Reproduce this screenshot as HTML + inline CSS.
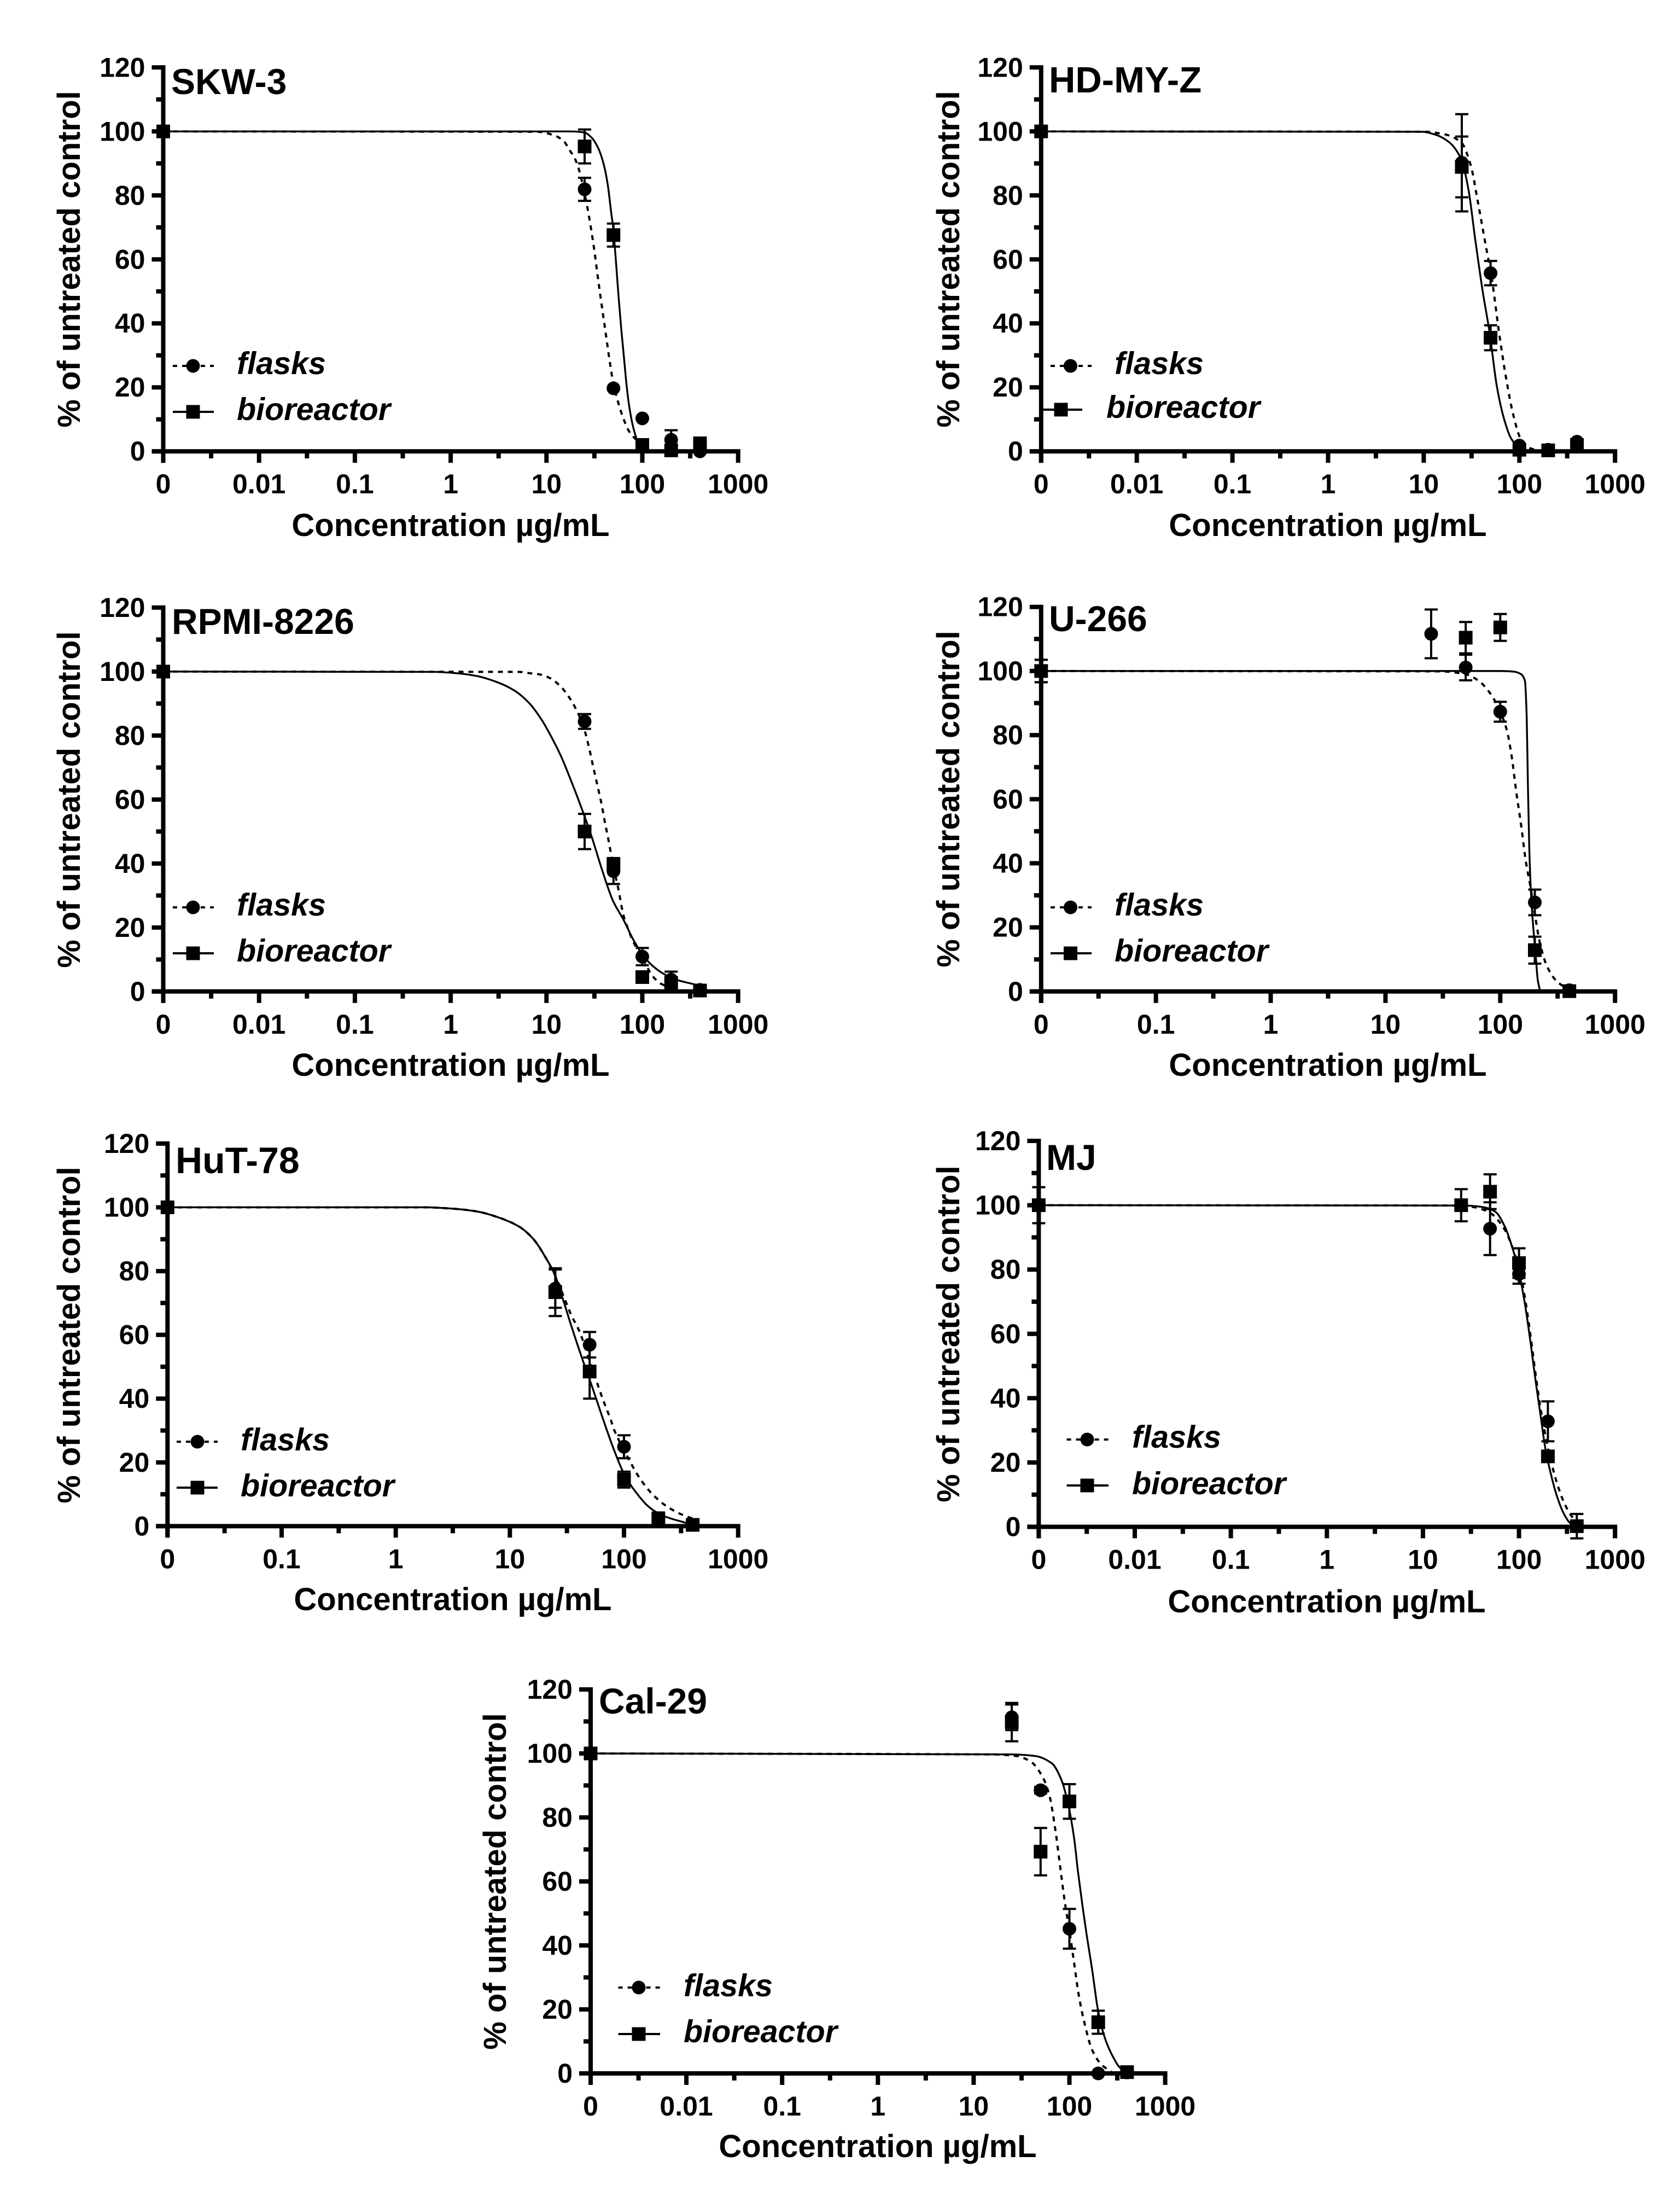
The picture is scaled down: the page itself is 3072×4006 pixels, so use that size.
<!DOCTYPE html>
<html lang="en">
<head>
<meta charset="utf-8">
<title>Dose-response curves for seven cell lines</title>
<style>
html,body{margin:0;padding:0;background:#fff;}
svg{display:block;}
text{font-family:"Liberation Sans",Arial,sans-serif;font-weight:bold;fill:#000;}
.tick{font-size:50px;}
.axt{font-size:58px;text-anchor:middle;}
.ttl{font-size:66px;}
.leg{font-size:57.5px;font-style:italic;}
</style>
</head>
<body>
<svg id="fig" xmlns="http://www.w3.org/2000/svg" width="3072" height="4006" viewBox="0 0 3072 4006">
<rect width="3072" height="4006" fill="#fff"/>

<g id="p1">
<text class="ttl" x="313" y="172">SKW-3</text>
<text class="axt" transform="translate(146 474) rotate(-90)">% of untreated control</text>
<text class="axt" x="824" y="980">Concentration µg/mL</text>
<text class="leg" x="433" y="684">flasks</text>
<text class="leg" x="433" y="768">bioreactor</text>
</g>

<g id="p2">
<text class="ttl" style="font-size:67px" x="1918" y="169">HD-MY-Z</text>
<text class="axt" transform="translate(1754 474) rotate(-90)">% of untreated control</text>
<text class="axt" x="2428" y="980">Concentration µg/mL</text>
<text class="leg" x="2038" y="684">flasks</text>
<text class="leg" x="2023" y="764">bioreactor</text>
</g>

<g id="p3">
<text class="ttl" x="314" y="1159">RPMI-8226</text>
<text class="axt" transform="translate(146 1462) rotate(-90)">% of untreated control</text>
<text class="axt" x="824" y="1967">Concentration µg/mL</text>
<text class="leg" x="433" y="1674">flasks</text>
<text class="leg" x="433" y="1758">bioreactor</text>
</g>

<g id="p4">
<text class="ttl" x="1918" y="1154">U-266</text>
<text class="axt" transform="translate(1754 1461) rotate(-90)">% of untreated control</text>
<text class="axt" x="2428" y="1967">Concentration µg/mL</text>
<text class="leg" x="2038" y="1674">flasks</text>
<text class="leg" x="2038" y="1758">bioreactor</text>
</g>

<g id="p5">
<text class="ttl" style="font-size:68px" x="321" y="2145">HuT-78</text>
<text class="axt" transform="translate(146 2441) rotate(-90)">% of untreated control</text>
<text class="axt" x="828" y="2944">Concentration µg/mL</text>
<text class="leg" x="440" y="2652">flasks</text>
<text class="leg" x="440" y="2736">bioreactor</text>
</g>

<g id="p6">
<text class="ttl" x="1913" y="2139">MJ</text>
<text class="axt" transform="translate(1754 2439) rotate(-90)">% of untreated control</text>
<text class="axt" x="2426" y="2948">Concentration µg/mL</text>
<text class="leg" x="2070" y="2647">flasks</text>
<text class="leg" x="2070" y="2732">bioreactor</text>
</g>

<g id="p7">
<text class="ttl" x="1095" y="3133">Cal-29</text>
<text class="axt" transform="translate(925 3440) rotate(-90)">% of untreated control</text>
<text class="axt" x="1605" y="3944">Concentration µg/mL</text>
<text class="leg" x="1250" y="3650">flasks</text>
<text class="leg" x="1250" y="3734">bioreactor</text>
</g>
</svg>

<script>
// ---------- shared axis data ----------
const doses = [0, 25, 50, 100, 200, 400];
const yTickValues = [0, 20, 40, 60, 80, 100, 120];
const yMinorValues = [10, 30, 50, 70, 90, 110];
const xTicksSixDecades = ['0', '0.01', '0.1', '1', '10', '100', '1000'];
const xTicksFiveDecades = ['0', '0.1', '1', '10', '100', '1000'];

// ---------- SKW-3 ----------
const skwFlasksVals = [100, 81.9, 19.7, 10.3, 3.6, 0];
const skwFlasksErr = [0, 3.6, 0, 0, 3, 0];
const skwBioVals = [100, 95.3, 67.6, 2, 0.3, 2.5];
const skwBioErr = [0, 5.3, 3.6, 0, 0, 0];
const skwFlasksCurveX = [0, 8, 12.2, 15.2, 17.3, 19.7, 21.5, 26.2, 30.6, 35.7, 40.7, 46.4, 49.6, 56.5, 64.5, 73.6, 87.7, 100, 115];
const skwFlasksCurveY = [100, 99.9, 98.7, 96.9, 94.3, 91.6, 88.7, 77.5, 65.6, 50.7, 38.7, 26.8, 21.6, 14.9, 9.7, 6, 3.4, 1.5, 0.3];
const skwBioCurveX = [0, 18, 24.6, 29.3, 34.9, 39.8, 43.5, 47.4, 49.6, 53, 56.5, 60.4, 64.5, 68.9, 73.6, 80.4, 89.6, 100, 110];
const skwBioCurveY = [100, 100, 99.7, 98.2, 94.6, 89.4, 83.5, 74.5, 70, 59.6, 48.4, 38, 29, 20, 13.4, 7.5, 3, 0.7, 0.1];

// ---------- HD-MY-Z ----------
const hdFlasksVals = [100, 90.2, 55.7, 1.8, 0.5, 3];
const hdFlasksErr = [0, 15.2, 3.8, 0, 0, 0];
const hdBioVals = [100, 88.9, 35.5, 0.5, 0.3, 2];
const hdBioErr = [0, 9.5, 3.9, 0, 0, 0];
const hdFlasksCurveX = [0, 10, 16.5, 24.6, 31, 36.8, 43.6, 51.8, 61.4, 72.9, 86.5, 102.6, 129, 162];
const hdFlasksCurveY = [100, 99.9, 99.1, 96.6, 89.4, 78, 65.8, 53.4, 37, 22.6, 11.3, 4.1, 1, 0.2];
const hdBioCurveX = [0, 9.5, 13.2, 18.5, 24.6, 29.2, 34.7, 41.2, 48.9, 58, 68.9, 81.7, 102.6, 129];
const hdBioCurveY = [100, 99.9, 99, 96.6, 91.4, 82.2, 65.8, 50.3, 37, 20.5, 10.3, 4.1, 0.8, 0.2];

// ---------- RPMI-8226 ----------
const rpmiFlasksVals = [100, 84.4, 37.6, 10.9, 3.7, 0.5];
const rpmiFlasksErr = [1.5, 2.3, 4, 2.7, 2.5, 0];
const rpmiBioVals = [100, 50, 39.7, 4.5, 2.7, 0.3];
const rpmiBioErr = [1.5, 5.5, 2, 0, 0, 0];
const rpmiFlasksCurveX = [0, 5.15, 6.62, 8.5, 10.96, 14.1, 17.2, 21, 24.5, 27.8, 30.7, 34, 37.6, 40.5, 44.8, 49.5, 56.1, 63.7, 70.5, 79.8, 100, 129, 157, 224];
const rpmiFlasksCurveY = [100, 99.9, 99.5, 99.1, 97.9, 95.3, 92, 87.4, 82.5, 76.2, 70.3, 64.4, 58.5, 53.2, 46.7, 39.5, 32.2, 23.7, 19.8, 15.8, 10.5, 4.7, 2.4, 0.7];
const rpmiBioCurveX = [0, 0.654, 1.14, 1.88, 3.11, 4.66, 6.62, 8.96, 10.96, 14.1, 18.1, 23.3, 29.9, 38.5, 49.5, 63.7, 81.9, 110.7, 157, 224, 370, 471];
const rpmiBioCurveY = [100, 99.9, 99.5, 98.6, 96.6, 94, 90.1, 84.8, 80.2, 73.7, 65.8, 57.2, 48, 37.5, 28.3, 22.4, 15.8, 9.9, 6, 3.7, 2, 0.8];

// ---------- U-266 ----------
const uFlasksVals = [100, 111.6, 101.1, 87.3, 27.8, 0.4];
const uFlasksErr = [3.5, 7.6, 4, 3.1, 4, 0];
const uBioVals = [100, null, 110.4, 113.6, 12.9, 0.1];
const uBioErr = [3.5, 0, 4.9, 4.2, 4.2, 0];
const uFlasksCurveX = [0, 30, 49.9, 64.5, 81.9, 100, 114, 125.7, 138, 152, 167, 184, 200, 222, 256, 310, 394];
const uFlasksCurveY = [100, 99.9, 99, 97, 93, 87.3, 81.6, 73.4, 62.2, 51.9, 40.6, 32.4, 24.2, 15, 7.8, 3.2, 0.6];
const uBioCurveX = [0, 100, 132, 152, 164, 170, 174, 179, 186, 196, 204, 212, 222];
const uBioCurveY = [100, 100, 99.8, 99, 97, 85.7, 65.2, 44.7, 29.3, 18, 10.9, 3.7, 0.2];

// ---------- HuT-78 ----------
const hutFlasksVals = [100, 74.5, 56.9, 24.9, 2.3, 0.4];
const hutFlasksErr = [0, 6, 4, 3.6, 0, 0];
const hutBioVals = [100, 73.4, 48.5, 14.6, 2.3, 0.4];
const hutBioErr = [0, 7.5, 8.5, 2.5, 2, 0];
const hutFlasksCurveX = [0, 1.79, 3.37, 5.15, 7.85, 12, 16.1, 20.7, 24.8, 29, 34.4, 40.8, 49.3, 58.3, 66.2, 76.7, 81.8, 114.8, 138.7, 178.7, 235, 323, 433];
const hutFlasksCurveY = [100, 100, 99.5, 98.7, 96.9, 94, 90, 84.1, 78.8, 72.9, 66.3, 61, 52.4, 44.8, 39.2, 33.3, 30.3, 19.8, 14.8, 9.9, 6.3, 3.6, 2];
const hutBioCurveX = [0, 1.79, 3.37, 5.15, 7.85, 12, 16.1, 20.7, 24.8, 29, 34.4, 42.6, 52.5, 64.9, 80.2, 98.9, 122, 171, 230, 352];
const hutBioCurveY = [100, 100, 99.5, 98.7, 96.9, 94, 90, 84.1, 78.8, 71.5, 63, 53, 43.8, 34, 24.7, 16.8, 11.5, 5.6, 3, 1];

// ---------- MJ ----------
const mjFlasksVals = [100, 100, 92.7, 78.6, 32.8, 0.2];
const mjFlasksErr = [5.6, 0, 8.2, 3, 6.2, 3.8];
const mjBioVals = [100, 100, 104.2, 82, 21.9, 0.2];
const mjBioErr = [0, 5, 5.4, 4.6, 0, 0];
const mjFlasksCurveX = [0, 21.5, 34, 50.6, 71.1, 89.3, 106, 118.6, 132.9, 148.9, 166.8, 186.9, 209.4, 248, 294, 349, 414];
const mjFlasksCurveY = [100, 99.9, 99.4, 97.5, 92.4, 85.2, 77.1, 68.9, 58.7, 47.4, 37.2, 29, 21.9, 13.7, 7.6, 3.5, 0.9];
const mjBioCurveX = [0, 27, 42.6, 56.6, 71.1, 84.3, 100, 115.9, 132.9, 148.9, 166.8, 186.9, 209.4, 248, 294, 349, 414];
const mjBioCurveY = [100, 99.9, 99.4, 98, 93.4, 87.3, 79.1, 68.9, 56.6, 45.4, 35.2, 24.9, 17.8, 9.6, 4, 0.9, 0.1];

// ---------- Cal-29 ----------
const calFlasksVals = [100, 111.3, 88.5, 45.2, 0, 0.3];
const calFlasksErr = [0, 4, 1, 6.2, 0, 0];
const calBioVals = [100, 109.8, 69.3, 85, 16, 0.4];
const calBioErr = [0, 6, 7.4, 5.4, 3.6, 0];
const calFlasksCurveX = [0, 15.8, 27.9, 39.3, 52.2, 62, 71, 79.6, 89.2, 100, 112.1, 125.6, 145.6, 172.8, 217, 273];
const calFlasksCurveY = [100, 99.7, 99.2, 97.5, 92.8, 86.7, 76.5, 65.2, 53.9, 44.7, 34.4, 24.2, 15, 7.3, 2.7, 0.6];
const calBioCurveX = [0, 24.9, 44, 65.6, 82.4, 97.8, 112.1, 122.8, 137.6, 150.7, 172.8, 198, 229.7, 273, 342.6, 406];
const calBioCurveY = [100, 99.7, 99.2, 96.9, 91.8, 83.6, 73.4, 63.1, 51.9, 43.7, 32.4, 20.1, 11.9, 6.3, 1.6, 0.4];

// ---------- drawing ----------
const NS = 'http://www.w3.org/2000/svg';

function make(tag, parent) {
  const el = document.createElementNS(NS, tag);
  parent.appendChild(el);
  return el;
}

function drawLine(parent, name, x1, y1, x2, y2, width) {
  const el = make('line', parent);
  
  
  el.setAttribute('x1', x1);
  el.setAttribute('y1', y1);
  el.setAttribute('x2', x2);
  el.setAttribute('y2', y2);
  el.setAttribute('stroke', '#000');
  el.setAttribute('stroke-width', width);
  return el;
}

function drawMarker(parent, kind, px, py) {
  if (kind === 'flasks') {
    const c = make('circle', parent);
    
    
    c.setAttribute('cx', px);
    c.setAttribute('cy', py);
    c.setAttribute('r', 12.5);
    c.setAttribute('fill', '#000');
  } else {
    const r = make('rect', parent);
    
    
    r.setAttribute('x', px - 12.5);
    r.setAttribute('y', py - 12.5);
    r.setAttribute('width', 25);
    r.setAttribute('height', 25);
    r.setAttribute('fill', '#000');
  }
}

// Monotone cubic through screen points, so the read-off values never overshoot.
function monotonePath(pts) {
  const n = pts.length;
  const slope = [];
  for (let i = 0; i < n - 1; i++) {
    slope.push((pts[i + 1][1] - pts[i][1]) / Math.max(pts[i + 1][0] - pts[i][0], 1e-6));
  }
  const tan = [slope[0]];
  for (let i = 1; i < n - 1; i++) {
    if (slope[i - 1] * slope[i] <= 0) {
      tan.push(0);
    } else {
      tan.push(2 * slope[i - 1] * slope[i] / (slope[i - 1] + slope[i]));
    }
  }
  tan.push(slope[n - 2]);
  let d = 'M' + pts[0][0].toFixed(2) + ' ' + pts[0][1].toFixed(2);
  for (let i = 0; i < n - 1; i++) {
    const dx = (pts[i + 1][0] - pts[i][0]) / 3;
    d += 'C' + (pts[i][0] + dx).toFixed(2) + ' ' + (pts[i][1] + tan[i] * dx).toFixed(2) + ' ' +
      (pts[i + 1][0] - dx).toFixed(2) + ' ' + (pts[i + 1][1] - tan[i + 1] * dx).toFixed(2) + ' ' +
      pts[i + 1][0].toFixed(2) + ' ' + pts[i + 1][1].toFixed(2);
  }
  return d;
}

function drawCurve(parent, kind, xs, ys, sx, sy) {
  const pts = xs.map(function (v, i) { return [sx(v), sy(ys[i])]; });
  const p = make('path', parent);
  
  
  p.setAttribute('d', monotonePath(pts));
  p.setAttribute('fill', 'none');
  p.setAttribute('stroke', '#000');
  if (kind === 'flasks') {
    p.setAttribute('stroke-width', 4);
    p.setAttribute('stroke-dasharray', '9 9');
  } else {
    p.setAttribute('stroke-width', 3.4);
  }
}

function drawSeries(parent, kind, vals, errs, sx, sy) {
  vals.forEach(function (v, i) {
    if (v === null) return;
    const px = sx(doses[i]);
    const py = sy(v);
    if (errs[i] > 0) {
      const top = sy(v + errs[i]);
      const bot = sy(v - errs[i]);
      drawLine(parent, kind + '-error-bar', px, top, px, bot, 4);
      drawLine(parent, kind + '-error-cap', px - 12, top, px + 12, top, 4);
      drawLine(parent, kind + '-error-cap', px - 12, bot, px + 12, bot, 4);
    }
    drawMarker(parent, kind, px, py);
  });
}

function drawLegendKey(parent, kind, x1, x2, mx, y) {
  const l = drawLine(parent, 'legend-line-' + kind, x1, y, x2, y, 4);
  if (kind === 'flasks') l.setAttribute('stroke-dasharray', '8 9');
  drawMarker(parent, kind, mx, y);
}

function drawPanel(o) {
  const g = document.getElementById(o.id);
  const decades = o.ticks.length - 1;
  const decPx = (o.xR - o.xL) / decades;
  const logMin = Math.log10(parseFloat(o.ticks[1])) - 1;
  const sx = function (v) {
    return v === 0 ? o.xL : o.xL + (Math.log10(v) - logMin) * decPx;
  };
  const sy = function (v) {
    return o.yB - v / 120 * (o.yB - o.yT);
  };

  // curves and data under the axes
  drawCurve(g, 'flasks', o.fcx, o.fcy, sx, sy);
  drawCurve(g, 'bioreactor', o.bcx, o.bcy, sx, sy);

  // axes
  drawLine(g, 'y-axis-line', o.xL, o.yT - 4, o.xL, o.yB + 21, 8);
  drawLine(g, 'x-axis-line', o.xL - 21, o.yB, o.xR + 4, o.yB, 8);

  yTickValues.forEach(function (v) {
    drawLine(g, 'y-tick', o.xL - 21, sy(v), o.xL, sy(v), 8);
    const t = make('text', g);
    
    
    t.setAttribute('class', 'tick');
    t.setAttribute('x', o.xL - 33);
    t.setAttribute('y', sy(v) + 17);
    t.setAttribute('text-anchor', 'end');
    t.textContent = String(v);
  });
  yMinorValues.forEach(function (v) {
    drawLine(g, 'y-minor-tick', o.xL - 13, sy(v), o.xL, sy(v), 8);
  });

  o.ticks.forEach(function (label, i) {
    const px = sx(parseFloat(label));
    drawLine(g, 'x-tick', px, o.yB, px, o.yB + 21, 8);
    const t = make('text', g);
    
    
    t.setAttribute('class', 'tick');
    t.setAttribute('x', px);
    t.setAttribute('y', o.yB + 77);
    t.setAttribute('text-anchor', 'middle');
    t.textContent = label;
    if (i < decades) {
      const mid = px === o.xL ? o.xL + decPx / 2 : px + decPx / 2;
      drawLine(g, 'x-minor-tick', mid, o.yB, mid, o.yB + 13, 8);
    }
  });

  drawSeries(g, 'flasks', o.fv, o.fe, sx, sy);
  drawSeries(g, 'bioreactor', o.bv, o.be, sx, sy);

  drawLegendKey(g, 'flasks', o.lf[0], o.lf[1], o.lf[2], o.lf[3]);
  drawLegendKey(g, 'bioreactor', o.lb[0], o.lb[1], o.lb[2], o.lb[3]);
}

drawPanel({id: 'p1', ticks: xTicksSixDecades, xL: 298.5, xR: 1349.7, yT: 123.3, yB: 825.2,
  fv: skwFlasksVals, fe: skwFlasksErr, bv: skwBioVals, be: skwBioErr,
  fcx: skwFlasksCurveX, fcy: skwFlasksCurveY, bcx: skwBioCurveX, bcy: skwBioCurveY,
  lf: [316, 391, 353, 669], lb: [316, 391, 353, 753]});

drawPanel({id: 'p2', ticks: xTicksSixDecades, xL: 1903.8, xR: 2953.2, yT: 123.3, yB: 825.2,
  fv: hdFlasksVals, fe: hdFlasksErr, bv: hdBioVals, be: hdBioErr,
  fcx: hdFlasksCurveX, fcy: hdFlasksCurveY, bcx: hdBioCurveX, bcy: hdBioCurveY,
  lf: [1921, 1996, 1957.5, 669], lb: [1907, 1979, 1940, 749]});

drawPanel({id: 'p3', ticks: xTicksSixDecades, xL: 298.5, xR: 1349.7, yT: 1110.9, yB: 1812.8,
  fv: rpmiFlasksVals, fe: rpmiFlasksErr, bv: rpmiBioVals, be: rpmiBioErr,
  fcx: rpmiFlasksCurveX, fcy: rpmiFlasksCurveY, bcx: rpmiBioCurveX, bcy: rpmiBioCurveY,
  lf: [316, 391, 353, 1659], lb: [316, 391, 353, 1743]});

drawPanel({id: 'p4', ticks: xTicksFiveDecades, xL: 1903.8, xR: 2953.2, yT: 1109.7, yB: 1812.8,
  fv: uFlasksVals, fe: uFlasksErr, bv: uBioVals, be: uBioErr,
  fcx: uFlasksCurveX, fcy: uFlasksCurveY, bcx: uBioCurveX, bcy: uBioCurveY,
  lf: [1921, 1996, 1957.5, 1659], lb: [1921, 1996, 1957.5, 1743]});

drawPanel({id: 'p5', ticks: xTicksFiveDecades, xL: 306.3, xR: 1349.7, yT: 2090.9, yB: 2790.4,
  fv: hutFlasksVals, fe: hutFlasksErr, bv: hutBioVals, be: hutBioErr,
  fcx: hutFlasksCurveX, fcy: hutFlasksCurveY, bcx: hutBioCurveX, bcy: hutBioCurveY,
  lf: [323, 398, 361, 2636], lb: [323, 398, 361, 2720]});

drawPanel({id: 'p6', ticks: xTicksSixDecades, xL: 1899.4, xR: 2953.2, yT: 2086, yB: 2791.6,
  fv: mjFlasksVals, fe: mjFlasksErr, bv: mjBioVals, be: mjBioErr,
  fcx: mjFlasksCurveX, fcy: mjFlasksCurveY, bcx: mjBioCurveX, bcy: mjBioCurveY,
  lf: [1950.6, 2027, 1988, 2632], lb: [1950.6, 2027, 1988, 2716]});

drawPanel({id: 'p7', ticks: xTicksSixDecades, xL: 1080, xR: 2130.6, yT: 3089, yB: 3791,
  fv: calFlasksVals, fe: calFlasksErr, bv: calBioVals, be: calBioErr,
  fcx: calFlasksCurveX, fcy: calFlasksCurveY, bcx: calBioCurveX, bcy: calBioCurveY,
  lf: [1130.6, 1207, 1168, 3634], lb: [1130.6, 1207, 1168, 3719]});
</script>
</body>
</html>
